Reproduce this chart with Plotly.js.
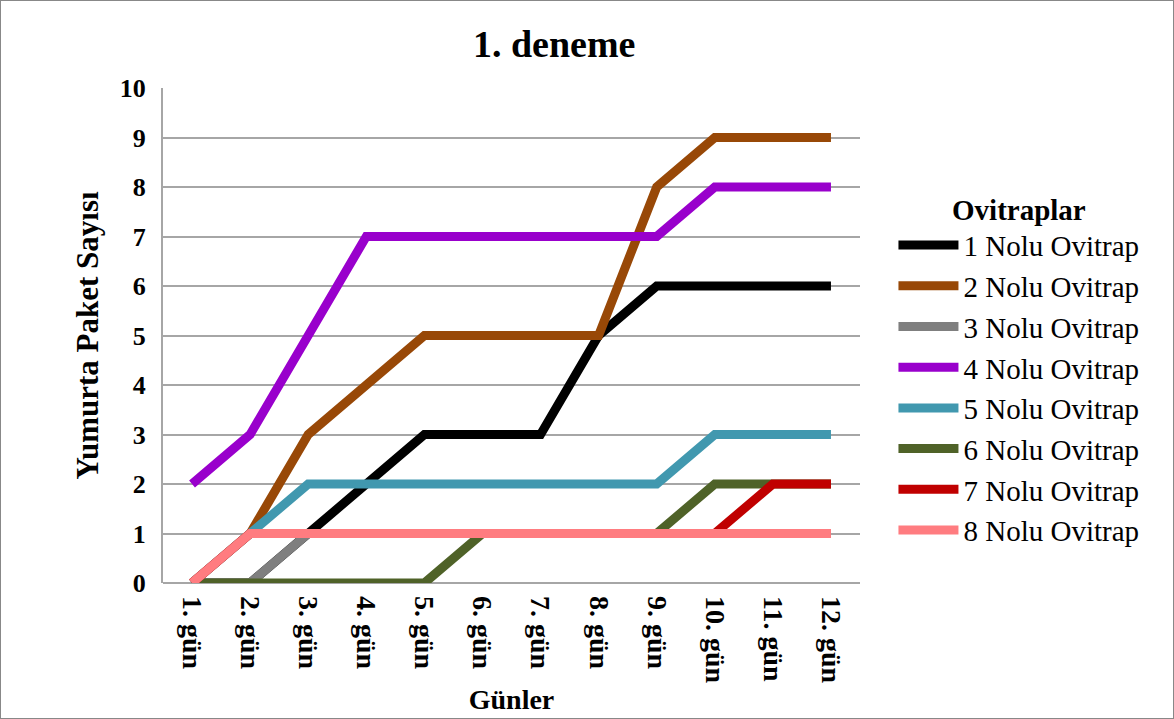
<!DOCTYPE html>
<html>
<head>
<meta charset="utf-8">
<script src="https://cdn.plot.ly/plotly-3.0.1.min.js"></script>
<style>
  html, body { margin: 0; padding: 0; background: #fff; }
  #chart { width: 1172px; height: 717px; border: 1px solid #888; }
</style>
</head>
<body>
<div id="chart"></div>
<script>
const days = ["1. gün","2. gün","3. gün","4. gün","5. gün","6. gün","7. gün","8. gün","9. gün","10. gün","11. gün","12. gün"];
const seriesNames = ["1 Nolu Ovitrap","2 Nolu Ovitrap","3 Nolu Ovitrap","4 Nolu Ovitrap","5 Nolu Ovitrap","6 Nolu Ovitrap","7 Nolu Ovitrap","8 Nolu Ovitrap"];
const ovitrap1 = [0,0,1,2,3,3,3,5,6,6,6,6];
const ovitrap2 = [0,1,3,4,5,5,5,5,8,9,9,9];
const ovitrap3 = [0,0,1,1,1,1,1,1,1,1,1,1];
const ovitrap4 = [2,3,5,7,7,7,7,7,7,8,8,8];
const ovitrap5 = [0,1,2,2,2,2,2,2,2,3,3,3];
const ovitrap6 = [0,0,0,0,0,1,1,1,1,2,2,2];
const ovitrap7 = [0,1,1,1,1,1,1,1,1,1,2,2];
const ovitrap8 = [0,1,1,1,1,1,1,1,1,1,1,1];
const colors = ["#000000","#984807","#7f7f7f","#9900cc","#4198af","#4f6228","#c00000","#ff7c80"];
const allValues = [ovitrap1,ovitrap2,ovitrap3,ovitrap4,ovitrap5,ovitrap6,ovitrap7,ovitrap8];

const traces = allValues.map((vals, i) => ({
  x: days,
  y: vals,
  name: seriesNames[i],
  type: "scatter",
  mode: "lines",
  line: { color: colors[i], width: 9 }
}));

const serif = "Liberation Serif, Times New Roman, serif";
const layout = {
  width: 1172,
  height: 717,
  paper_bgcolor: "#fff",
  plot_bgcolor: "#fff",
  margin: { l: 162, r: 313, t: 87, b: 135 },
  font: { family: serif, color: "#000" },
  title: { text: "<b>1. deneme</b>", font: { family: serif, size: 38, color: "#000" }, x: 0.472, xanchor: "center", y: 0.94, yanchor: "middle" },
  xaxis: {
    type: "category",
    range: [-0.5, 11.5],
    tickangle: 90,
    tickfont: { family: serif, size: 28, color: "#000", weight: "bold" },
    showgrid: false,
    showline: false,
    ticks: "",
    ticklabelstandoff: 12,
    automargin: false,
    title: { text: "<b>Günler</b>", font: { family: serif, size: 28, color: "#000" }, standoff: 6 }
  },
  yaxis: {
    range: [0, 10],
    dtick: 1,
    tickfont: { family: serif, size: 26, color: "#000", weight: "bold" },
    showgrid: true,
    gridcolor: "#a6a6a6",
    gridwidth: 2,
    showline: true,
    linecolor: "#a6a6a6",
    linewidth: 2,
    zeroline: true,
    zerolinecolor: "#a6a6a6",
    zerolinewidth: 2,
    ticks: "",
    ticklabelstandoff: 10,
    automargin: false,
    title: { text: "<b>Yumurta Paket Sayısı</b>", font: { family: serif, size: 31, color: "#000" }, standoff: 12 }
  },
  showlegend: true,
  legend: {
    x: 1.048,
    xanchor: "left",
    y: 0.81,
    yanchor: "top",
    font: { family: serif, size: 29, color: "#000" },
    title: { text: "<b>Ovitraplar</b>", font: { family: serif, size: 29, color: "#000" }, side: "top center" },
    tracegroupgap: 0,
    itemwidth: 60,
    bgcolor: "rgba(0,0,0,0)"
  }
};

Plotly.newPlot("chart", traces, layout, { displayModeBar: false, staticPlot: true });
</script>
</body>
</html>
